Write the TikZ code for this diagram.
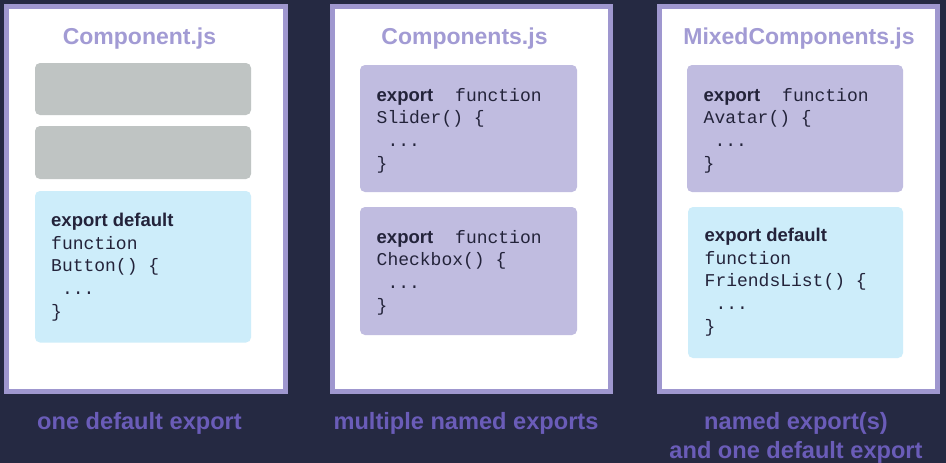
\documentclass[tikz,border=0pt]{standalone}
\usepackage{fontspec}
\setmainfont{Liberation Sans}
\newfontfamily\codefont{Liberation Mono}

\definecolor{bgnavy}{HTML}{252942}
\definecolor{panelrim}{HTML}{9F97CF}
\definecolor{titlepurple}{HTML}{A29BD4}
\definecolor{labelpurple}{HTML}{6A5CB8}
\definecolor{greybox}{HTML}{BFC4C3}
\definecolor{bluebox}{HTML}{CDEDFA}
\definecolor{namedbox}{HTML}{C0BCE0}
\definecolor{codeink}{HTML}{23233A}

\tikzset{
    panel/.style={fill=white, draw=panelrim, line width=5pt},
    codebox/.style={rounded corners=5pt},
    title/.style={anchor=base, text=titlepurple, font=\fontsize{23}{27}\selectfont\bfseries},
    caption/.style={anchor=base, text=labelpurple, align=center, font=\fontsize{23.6}{28.5}\selectfont\bfseries},
    code/.style={anchor=base west, align=left, inner sep=0pt, text=codeink, font=\fontsize{18}{22.6}\selectfont}
}
\newcommand{\kw}[1]{{\fontsize{18.5}{22.6}\selectfont\bfseries #1}}
\newcommand{\cd}[1]{{\codefont #1}}

\begin{document}
\begin{tikzpicture}[x=1pt,y=-1pt]
        \fill[bgnavy] (0,0) rectangle (946,463);
        \useasboundingbox (0,0) rectangle (946,463);

        % the three files
        \draw[panel] (6.5,6.5) rectangle (285.5,391);
        \draw[panel] (332.5,6.5) rectangle (610.5,391);
        \draw[panel] (659.5,6.5) rectangle (937.5,391);

        \node[title] (comp) at (139.5,44.5) {Component.js};
        \node[title] (comps) at (464.5,44.5) {Components.js};
        \node[title] (mixed) at (799,44.5) {MixedComponents.js};

        % Component.js (code nodes sit on the baseline of their last line)
        \fill[greybox,codebox] (35,63) rectangle (251,115);
        \fill[greybox,codebox] (35,126) rectangle (251,179);
        \fill[bluebox,codebox] (35,191) rectangle (251,342.5);
        \node[code] (button) at (51,317)
            {\kw{export default}\\ \cd{function}\\ \cd{Button() \{}\\ \cd{\ ...}\\ \cd{\}}};

        % Components.js
        \fill[namedbox,codebox] (360,65) rectangle (577,192);
        \fill[namedbox,codebox] (360,207) rectangle (577,335);
        \node[code] (slider) at (376.5,169)
            {\kw{export}\hspace{22pt}\cd{function}\\ \cd{Slider() \{}\\ \cd{\ ...}\\ \cd{\}}};
        \node[code] (checkbox) at (376.5,311)
            {\kw{export}\hspace{22pt}\cd{function}\\ \cd{Checkbox() \{}\\ \cd{\ ...}\\ \cd{\}}};

        % MixedComponents.js
        \fill[namedbox,codebox] (687,65) rectangle (903,192);
        \fill[bluebox,codebox] (688,207) rectangle (903,358);
        \node[code] (avatar) at (703.5,169)
            {\kw{export}\hspace{22pt}\cd{function}\\ \cd{Avatar() \{}\\ \cd{\ ...}\\ \cd{\}}};
        \node[code] (friends) at (704.5,332)
            {\kw{export default}\\ \cd{function}\\ \cd{FriendsList() \{}\\ \cd{\ ...}\\ \cd{\}}};

        % captions
        \node[caption] (one) at (139.5,429.5) {one default export};
        \node[caption] (multi) at (466,429.5) {multiple named exports};
        \node[caption] (both) at (796,458) {named export(s)\\and one default export};
\end{tikzpicture}
\end{document}
